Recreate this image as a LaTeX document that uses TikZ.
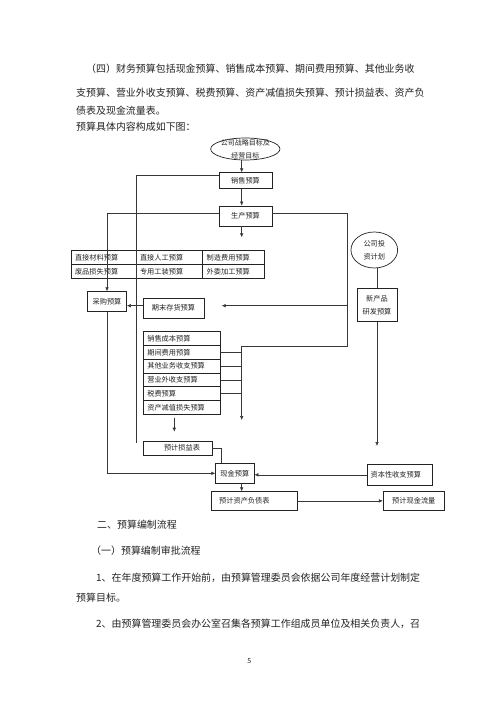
\documentclass[tikz,border=0pt]{standalone}
\usepackage{fontspec}
\setmainfont{Noto Sans CJK SC}
\usetikzlibrary{arrows.meta,positioning,shapes.geometric}
\XeTeXlinebreaklocale "zh"
\XeTeXlinebreakskip=0pt plus 1pt
\definecolor{InkGray}{RGB}{35,35,35}
\definecolor{LineGray}{RGB}{55,55,55}

\begin{document}
\begin{tikzpicture}[x=1pt,y=-1pt,
  para/.style={anchor=west,inner sep=0pt,font=\fontsize{9.95}{12}\selectfont,text=InkGray},
  box/.style={rectangle,draw=InkGray,line width=0.7pt,inner sep=0pt,align=center,font=\fontsize{7.2}{13}\selectfont,text=InkGray},
  cell/.style={box,minimum height=13.8pt,align=left,inner xsep=4pt},
  goal/.style={ellipse,draw=InkGray,line width=0.7pt,inner xsep=0pt,inner ysep=-2pt,align=center,font=\fontsize{7}{13}\selectfont,text=InkGray},
  link/.style={line width=0.6pt,LineGray},
  arrow/.style={-{Latex[length=4pt,width=3.6pt]},line width=0.6pt,LineGray}
]
  \fill[white] (0,0) rectangle (500,708);
  \useasboundingbox (0,0) rectangle (500,708);

  \node[para] (p1) at (86,68.5) {\makebox[339pt][s]{（四）财务预算包括现金预算、销售成本预算、期间费用预算、其他业务收}};
  \node[para] (p2) at (76,92.5) {\makebox[349pt][s]{支预算、营业外收支预算、税费预算、资产减值损失预算、预计损益表、资产负}};
  \node[para] (p3) at (76,111) {债表及现金流量表。};
  \node[para] (p4) at (76,126.3) {预算具体内容构成如下图：};

  \node[goal,minimum width=67pt,minimum height=22pt] (goal) at (245.3,149) {公司战略目标及\\经营目标};
  \node[box,minimum width=53pt,minimum height=15.6pt] (sales) at (245.5,180.5) {销售预算};
  \node[box,minimum width=53pt,minimum height=20pt] (prod) at (245.5,216) {生产预算};

  \node[cell,text width=57pt] (c11) at (103.5,257.6) {直接材料预算};
  \node[cell,text width=58.7pt] (c12) at (169.35,257.6) {直接人工预算};
  \node[cell,text width=53.3pt] (c13) at (233.35,257.6) {制造费用预算};
  \node[cell,text width=57pt] (c21) at (103.5,271.4) {废品损失预算};
  \node[cell,text width=58.7pt] (c22) at (169.35,271.4) {专用工装预算};
  \node[cell,text width=53.3pt] (c23) at (233.35,271.4) {外委加工预算};

  \node[ellipse,draw=InkGray,line width=0.7pt,inner sep=0pt,align=center,font=\fontsize{7.2}{12.7}\selectfont,text=InkGray,minimum width=46.7pt,minimum height=36pt] (inv) at (374.3,250) {公司投\\资计划};
  \node[box,minimum width=40pt,minimum height=33.7pt] (rd) at (377,304.85) {新产品\\研发预算};

  \node[box,minimum width=39pt,minimum height=20pt] (purch) at (107,301.7) {采购预算};
  \node[box,minimum width=61pt,minimum height=20pt] (endinv) at (173.5,308) {期末存货预算};

  \node[cell,text width=69.4pt] (row1) at (182,338.6) {销售成本预算};
  \node[cell,text width=69.4pt] (row2) at (182,352.4) {期间费用预算};
  \node[cell,text width=69.4pt] (row3) at (182,366.1) {其他业务收支预算};
  \node[cell,text width=69.4pt] (row4) at (182,379.9) {营业外收支预算};
  \node[cell,text width=69.4pt] (row5) at (182,393.7) {税费预算};
  \node[cell,text width=69.4pt] (row6) at (182,407.4) {资产减值损失预算};

  \node[box,minimum width=69pt,minimum height=14pt] (pl) at (177.5,448) {\hspace*{9pt}预计损益表};
  \node[box,minimum width=38.3pt,minimum height=20pt] (cash) at (234.85,473.3) {现金预算};
  \node[box,minimum width=65pt,minimum height=21pt] (cap) at (399.8,474.8) {资本性收支预算\hspace*{8pt}};
  \node[box,minimum width=85.3pt,minimum height=18.3pt] (bs) at (254.35,500.85) {预计资产负债表\hspace*{20pt}};
  \node[box,minimum width=61pt,minimum height=18.3pt] (cf) at (413.8,500.85) {预计现金流量};

  \coordinate (spine) at (241.7,0);
  \coordinate (salesend) at (136,443);
  \coordinate (rjoin) at (347.7,346);
  \coordinate (cjoin) at (241.7,346);
  \coordinate (cstop) at (241.7,420);
  \coordinate (invtip) at (221.7,305.7);
  \coordinate (plin) at (174.3,431.7);
  \coordinate (rdtip) at (377.7,446);

  \draw[arrow] (goal.south -| spine) -- (sales.north -| spine);
  \draw[arrow] (sales.south -| spine) -- (prod.north -| spine);
  \draw[arrow,shorten >=13pt] (prod.south -| spine) -- (c13.north -| spine);
  \draw[link] ([yshift=5pt]sales.west) -| (salesend);
  \draw[arrow] ([yshift=2.7pt]prod.west) -| (purch.north);
  \draw[arrow] ([yshift=2.7pt]prod.east) -| (rjoin) -- (cjoin) -- (cstop);
  \draw[arrow] (rjoin |- invtip) -- (invtip);
  \draw[arrow] ([yshift=2.3pt]endinv.west) -- ([yshift=2.3pt]endinv.west -| purch.east);
  \draw[link] (row2.east) -- (row2.east -| spine);
  \draw[link] (row3.east) -- (row3.east -| spine);
  \draw[link] (row4.east) -- (row4.east -| spine);
  \draw[link] (row5.east) -- (row5.east -| spine);
  \draw[arrow,shorten <=3pt] (row6.south -| plin) -- (plin);
  \draw[link] (pl.east) -| (cash.north -| invtip);
  \draw[arrow] (purch.south) |- (cash.west);
  \draw[arrow] (cap.west) -- (cap.west -| cash.east);
  \draw[arrow] (cash.south -| spine) -- (bs.north -| spine);
  \draw[arrow] (bs.east) -- (cf.west);
  \draw[link] (inv.south -| rd.north) -- (rd.north);
  \draw[arrow] (rd.south) -- (rd.south |- rdtip);

  \node[para] (h1) at (97,525) {二、预算编制流程};
  \node[para] (h2) at (91,551) {（一）预算编制审批流程};
  \node[para] (p5) at (96,577.7) {\makebox[328pt][s]{1、在年度预算工作开始前，由预算管理委员会依据公司年度经营计划制定}};
  \node[para] (p6) at (76,597.7) {预算目标。};
  \node[para] (p7) at (96,623.3) {\makebox[328pt][s]{2、由预算管理委员会办公室召集各预算工作组成员单位及相关负责人，召}};
  \node[font=\fontsize{7}{8}\selectfont,text=InkGray,inner sep=0pt] (pg) at (249.3,661) {5};
\end{tikzpicture}
\end{document}
